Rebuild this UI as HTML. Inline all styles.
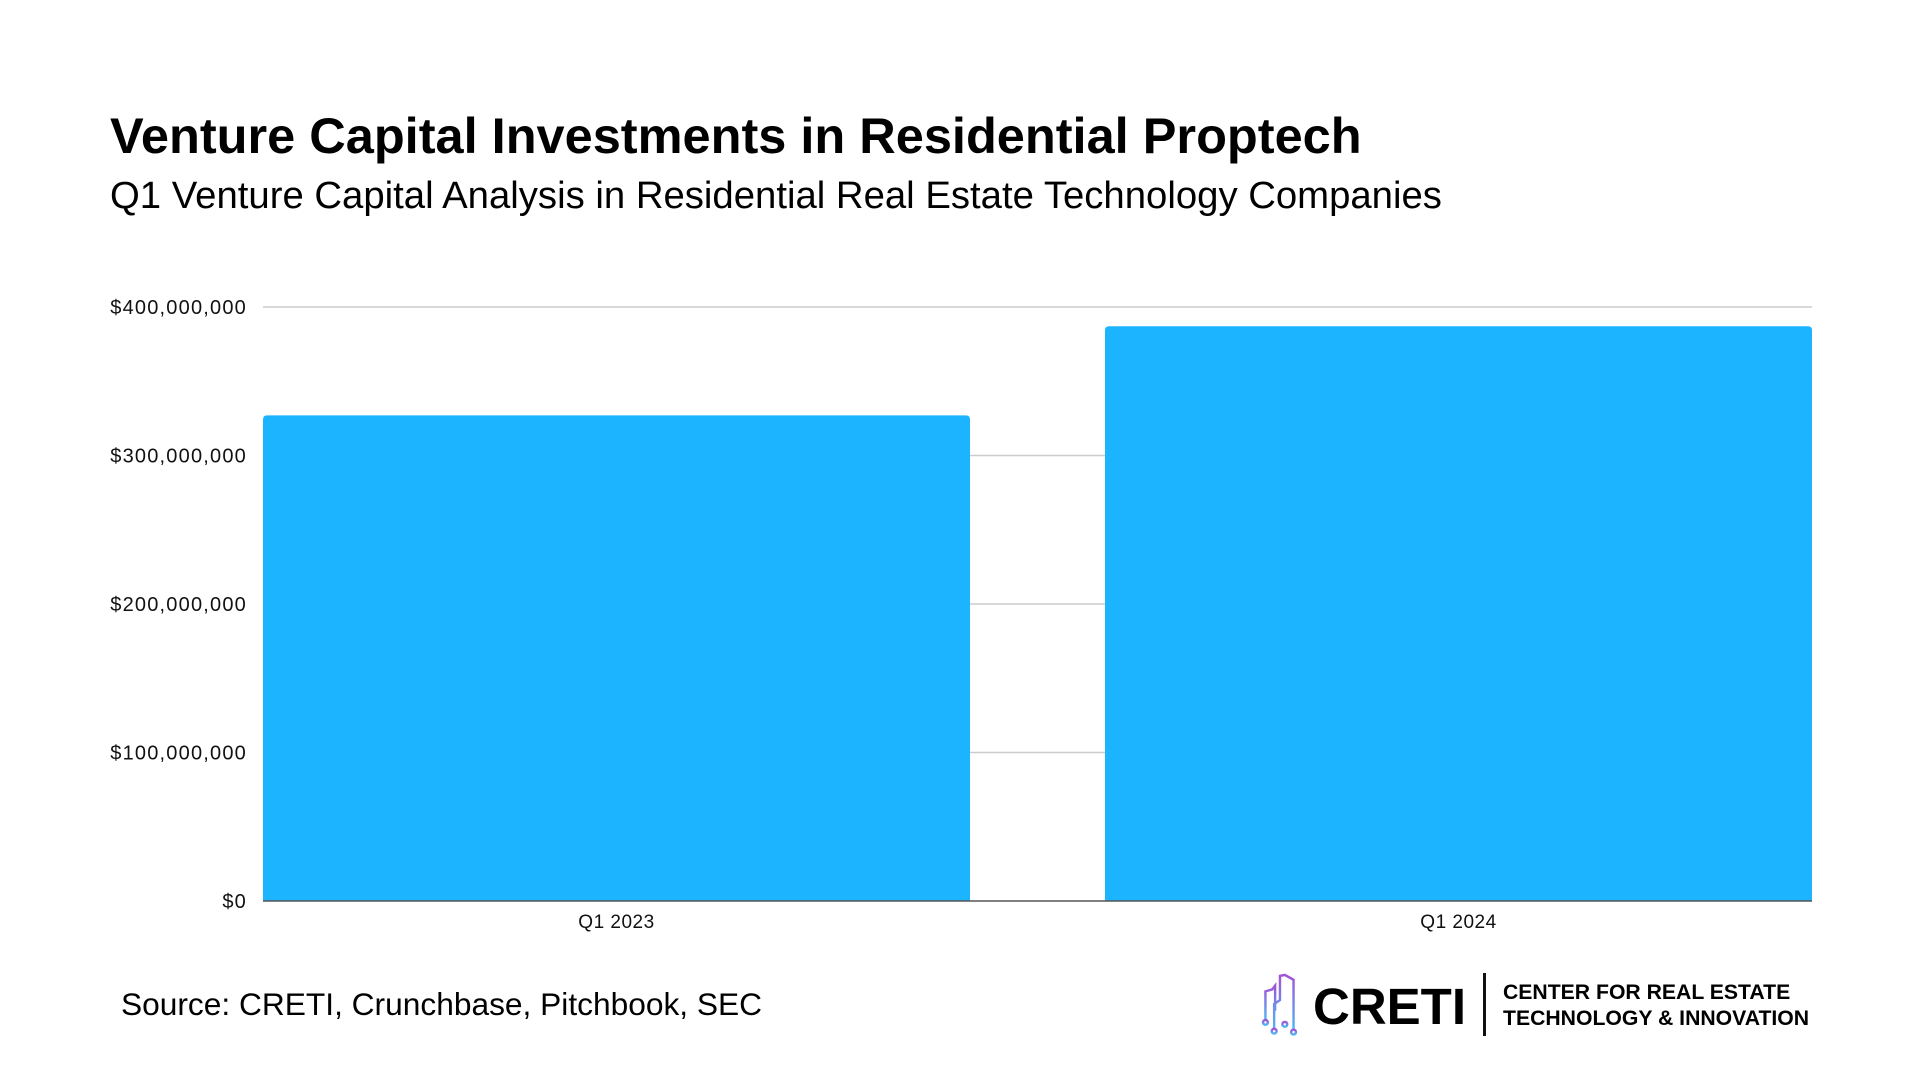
<!DOCTYPE html>
<html><head><meta charset="utf-8">
<style>
html,body{margin:0;padding:0;background:#fff;}
body{width:1920px;height:1080px;position:relative;overflow:hidden;font-family:"Liberation Sans",sans-serif;}
.t{position:absolute;white-space:nowrap;color:#000;}
</style></head>
<body>
<div class="t" style="left:110px;top:106px;font-size:50.5px;font-weight:bold;">Venture Capital Investments in Residential Proptech</div>
<div class="t" style="left:110px;top:174px;font-size:38.3px;">Q1 Venture Capital Analysis in Residential Real Estate Technology Companies</div>
<svg id="chart" width="1920" height="1080" style="position:absolute;left:0;top:0" xmlns="http://www.w3.org/2000/svg"></svg>
<div class="t" style="left:121px;top:986px;font-size:31.7px;">Source: CRETI, Crunchbase, Pitchbook, SEC</div>
<svg style="position:absolute;left:1260px;top:972px" width="38" height="64" viewBox="18 10 38 66">
<defs><linearGradient id="g" x1="0" y1="0" x2="0" y2="1"><stop offset="0" stop-color="#a252d8"/><stop offset="1" stop-color="#4fb8f5"/></linearGradient></defs>
<g fill="none" stroke="url(#g)" stroke-width="2.5">
<path d="M23 60 V30 L30 28 L33 24 V50"/><path d="M32 70 V43 L38 39 V14 L43 13 L52 18 V70"/><path d="M43 62 V14"/>
<circle cx="23" cy="62" r="2.5"/><circle cx="32" cy="71" r="2.5"/><circle cx="43" cy="64" r="2.5"/><circle cx="52" cy="72" r="2.5"/>
</g></svg>
<div class="t" style="left:1313px;top:977px;font-size:51px;font-weight:bold;">CRETI</div>
<div style="position:absolute;left:1483px;top:973px;width:3px;height:63px;background:#111;"></div>
<div class="t" style="left:1503px;top:980px;font-size:21.2px;font-weight:bold;line-height:26px;">CENTER FOR REAL ESTATE<br>TECHNOLOGY &amp; INNOVATION</div>
<script>
const categories = ["Q1 2023", "Q1 2024"];
const values = [327000000, 387000000];
const tickValues = [0, 100000000, 200000000, 300000000, 400000000];
const tickLabels = ["$0", "$100,000,000", "$200,000,000", "$300,000,000", "$400,000,000"];
const NS = "http://www.w3.org/2000/svg";
const svg = document.getElementById('chart');
const x0 = 263, x1 = 1812, yBase = 901, yTop = 307, vMax = 400000000;
const y = v => yBase - (v / vMax) * (yBase - yTop);
const gap = 135;
const bw = (x1 - x0 - gap*(categories.length-1)) / categories.length;
function mk(tag, attrs){const e=document.createElementNS(NS,tag);for(const k in attrs)e.setAttribute(k,attrs[k]);svg.appendChild(e);return e;}
tickValues.forEach((v,i)=>{
  if(v>0){const l=mk('line',{x1:x0,x2:x1,y1:y(v),y2:y(v),stroke:'#cccccc','stroke-width':1.5});
  
  }
  const t=mk('text',{x:247,y:y(v)+7,'text-anchor':'end','font-size':20,'letter-spacing':1.2,'font-family':'Liberation Sans, sans-serif',fill:'#111'});
  t.textContent=tickLabels[i];
  
  
});
categories.forEach((c,i)=>{
  const bx = x0 + i*(bw+gap);
  const yy = y(values[i]);
  const r=mk('path',{d:`M${bx} ${yBase} V${yy+4} Q${bx} ${yy} ${bx+4} ${yy} H${bx+bw-4} Q${bx+bw} ${yy} ${bx+bw} ${yy+4} V${yBase} Z`,fill:'#1db4ff'});
  
  
  const t=mk('text',{x:bx+bw/2,y:928,'text-anchor':'middle','font-size':19,'letter-spacing':0.5,'font-family':'Liberation Sans, sans-serif',fill:'#111'});
  t.textContent=c;
  
  
});
const ax=mk('line',{x1:x0,x2:x1,y1:yBase,y2:yBase,stroke:'#555','stroke-width':1.5});


</script>
</body></html>
